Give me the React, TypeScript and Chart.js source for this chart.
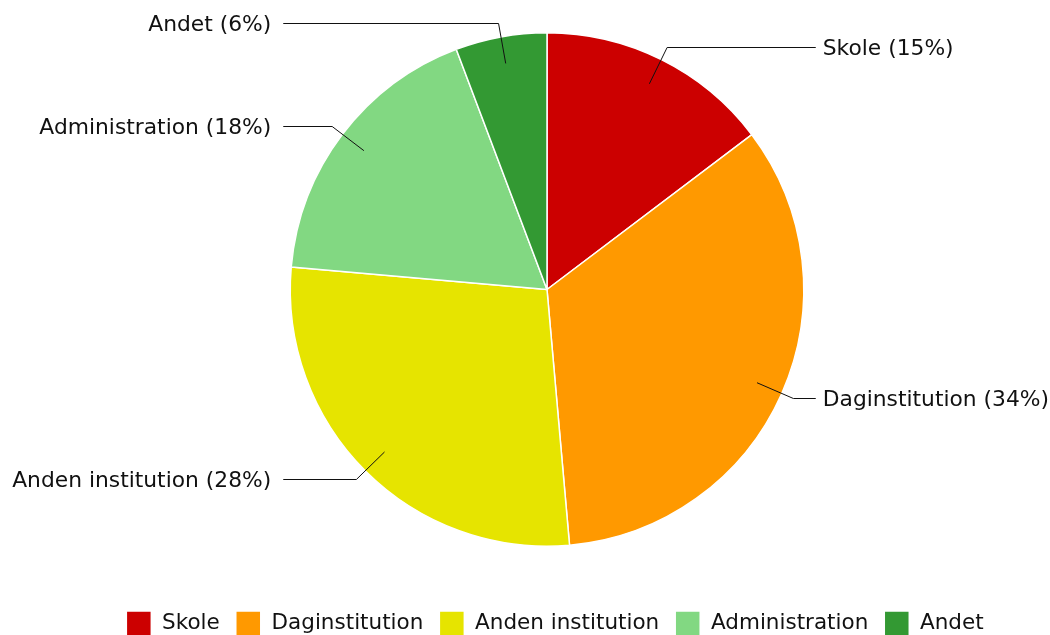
import React, { useEffect, useRef } from "react";
import { Chart, registerables } from "chart.js";

Chart.register(...registerables);

const categories = ["Skole", "Daginstitution", "Anden institution", "Administration", "Andet"];
const shares = [14.7, 33.9, 27.8, 17.85, 5.75];
const shareLabels = ["15%", "34%", "28%", "18%", "6%"];
const colors = ["#CC0000", "#FF9900", "#E6E400", "#82D882", "#339933"];

const FONT = "'DejaVu Sans', Verdana, sans-serif";

const calloutPlugin = {
  id: "callouts",
  afterLayout(chart: any) {
    // legend sits a little right of the pie centre in the reference
    if (chart.legend) {
      chart.legend.left += 8;
      chart.legend.right += 8;
    }
  },
  afterDatasetsDraw(chart: any) {
    const ctx = chart.ctx;
    const meta = chart.getDatasetMeta(0);
    ctx.save();
    ctx.font = `21.8px ${FONT}`;
    ctx.fillStyle = "#111";
    ctx.strokeStyle = "#111";
    ctx.lineWidth = 1;
    ctx.textBaseline = "middle";
    meta.data.forEach((arc: any, i: number) => {
      const { x, y, startAngle, endAngle, outerRadius } = arc.getProps(
        ["x", "y", "startAngle", "endAngle", "outerRadius"],
        true
      );
      const mid = (startAngle + endAngle) / 2;
      const r0 = outerRadius * 0.895;
      const r1 = outerRadius * 1.05;
      const sx = x + Math.cos(mid) * r0;
      const sy = y + Math.sin(mid) * r0;
      const ex = x + Math.cos(mid) * r1;
      const ey = Math.round(y + Math.sin(mid) * r1) - 0.5;
      const right = Math.cos(mid) >= 0;
      const lx = right ? x + outerRadius + 12 : x - outerRadius - 7;
      ctx.beginPath();
      ctx.moveTo(sx, sy);
      ctx.lineTo(ex, ey);
      ctx.lineTo(lx, ey);
      ctx.stroke();
      const text = `${categories[i]} (${shareLabels[i]})`;
      ctx.textAlign = right ? "left" : "right";
      ctx.fillText(text, right ? lx + 7 : lx - 12, ey + 1.5);
    });
    ctx.restore();
  },
};

export default function App() {
  const ref = useRef<HTMLCanvasElement | null>(null);
  useEffect(() => {
    document.documentElement.style.overflow = "hidden";
    document.body.style.marginRight = "0px";
    document.body.style.marginBottom = "0px";
    const chart = new Chart(ref.current as HTMLCanvasElement, {
      type: "pie",
      data: {
        labels: categories,
        datasets: [
          {
            data: shares,
            backgroundColor: colors,
            borderColor: "#ffffff",
            borderWidth: 1.5,
          },
        ],
      },
      options: {
        animation: false,
        responsive: true,
        maintainAspectRatio: false,
        layout: { padding: { top: 24, left: 36, right: 0, bottom: 0 } },
        plugins: {
          tooltip: { enabled: false },
          legend: {
            position: "bottom",
            title: { display: true, text: "", padding: { top: 36, bottom: 0 }, font: { size: 10 } },
            labels: {
              boxWidth: 25,
              boxHeight: 25,
              padding: 16,
              color: "#111",
              font: { family: FONT, size: 21.5 },
            },
          },
        },
      },
      plugins: [calloutPlugin],
    });
    return () => chart.destroy();
  }, []);
  return (
    <div style={{ position: "relative", width: 1042, height: 638 }}>
      <canvas ref={ref} />
    </div>
  );
}
